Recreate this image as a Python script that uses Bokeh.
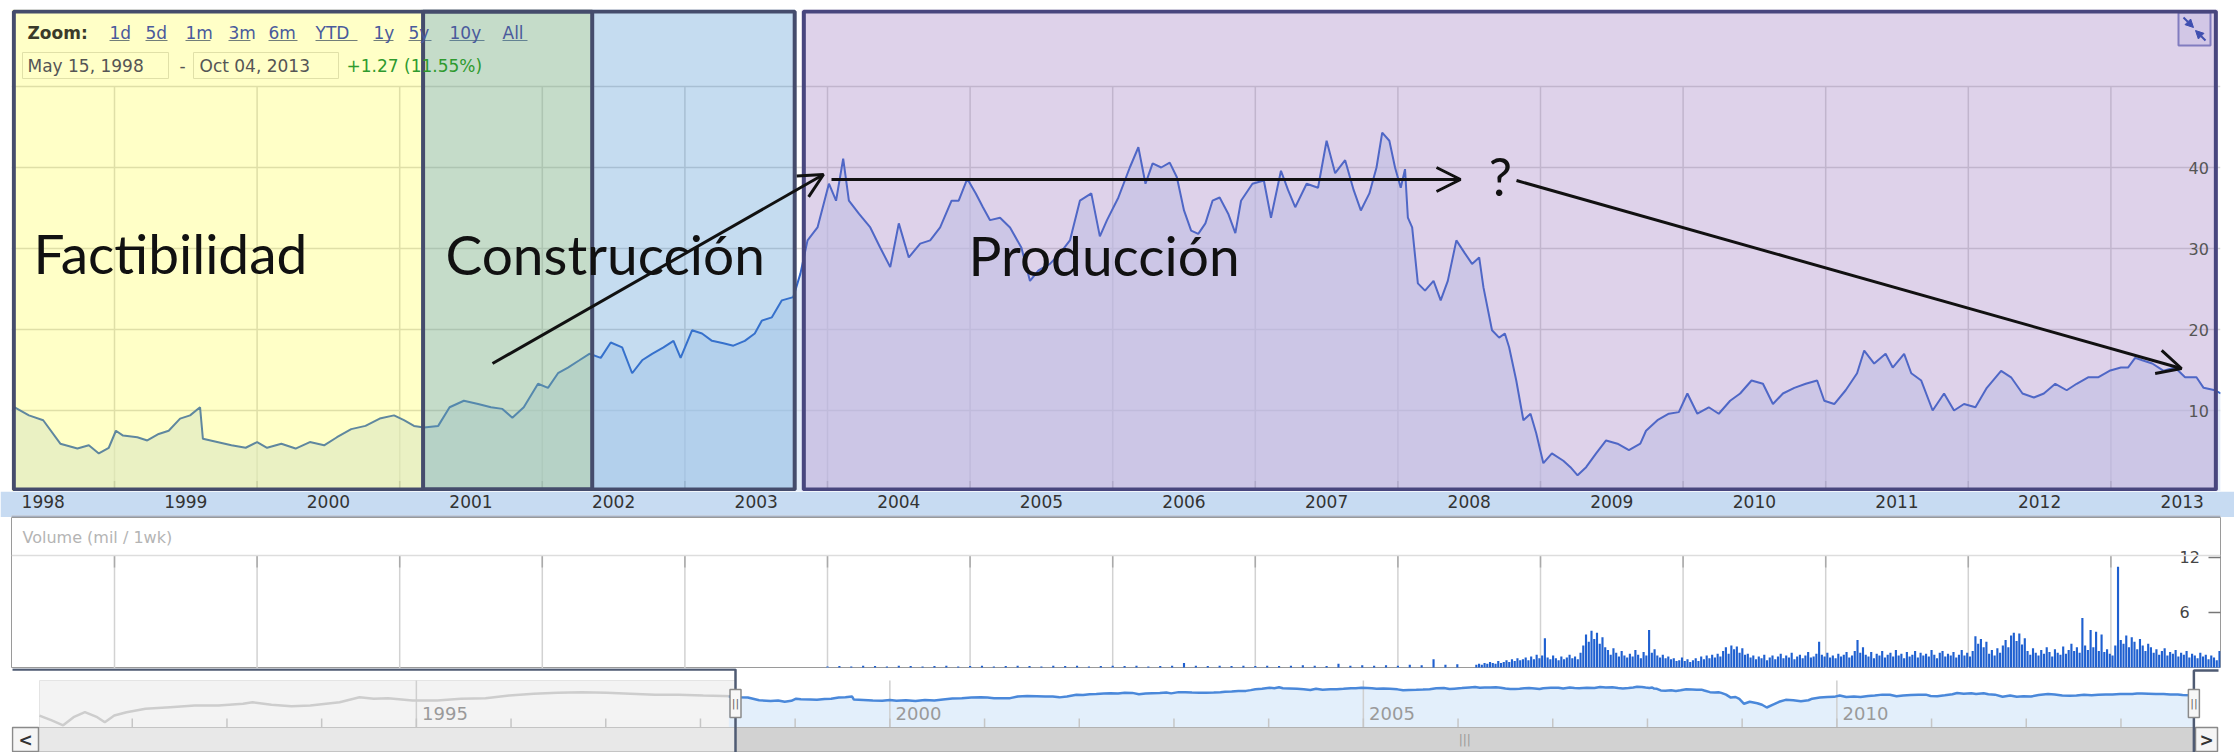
import math
import numpy as np
from bokeh.plotting import figure
from bokeh.layouts import column
from bokeh.models import (Range1d, LinearAxis, FixedTicker, Label, Arrow, OpenHead,
                          NormalHead, Span, Grid)
from bokeh.embed import file_html
from bokeh.resources import INLINE
from bokeh.core.properties import value

# ---------------------------------------------------------------- data
price_t = [1998.30, 1998.40, 1998.50, 1998.62, 1998.74, 1998.82, 1998.89, 1998.96,
           1999.01, 1999.06, 1999.16, 1999.23, 1999.31, 1999.38, 1999.46, 1999.53, 1999.60, 1999.62, 1999.72, 1999.82, 1999.92,
           2000.00, 2000.07, 2000.17, 2000.27, 2000.37, 2000.47, 2000.56, 2000.66, 2000.76, 2000.86, 2000.96,
           2001.03, 2001.10, 2001.17, 2001.27, 2001.35, 2001.45, 2001.55, 2001.64, 2001.72, 2001.79, 2001.87, 2001.97,
           2002.04, 2002.11, 2002.18, 2002.26, 2002.33, 2002.41, 2002.48, 2002.56, 2002.63, 2002.70, 2002.77, 2002.85, 2002.92, 2002.97,
           2003.05, 2003.12, 2003.19, 2003.27, 2003.34, 2003.42, 2003.49, 2003.54, 2003.61, 2003.68, 2003.76, 2003.81, 2003.86, 2003.93,
           2004.01, 2004.06, 2004.11, 2004.15, 2004.22, 2004.30, 2004.37, 2004.44, 2004.50, 2004.57, 2004.65, 2004.72, 2004.79, 2004.87, 2004.92, 2004.98,
           2005.04, 2005.09, 2005.14, 2005.21, 2005.28, 2005.36, 2005.42, 2005.48, 2005.56, 2005.63, 2005.70, 2005.77, 2005.85, 2005.91, 2005.96,
           2006.04, 2006.12, 2006.18, 2006.23, 2006.28, 2006.34, 2006.40, 2006.45, 2006.50, 2006.55, 2006.60, 2006.65, 2006.70, 2006.75, 2006.81, 2006.86, 2006.90, 2006.98,
           2007.06, 2007.11, 2007.18, 2007.23, 2007.28, 2007.36, 2007.44, 2007.50, 2007.56, 2007.63, 2007.69, 2007.74, 2007.80, 2007.85, 2007.89, 2007.94, 2007.98,
           2008.02, 2008.05, 2008.07, 2008.10, 2008.14, 2008.19, 2008.25, 2008.30, 2008.35, 2008.41, 2008.47, 2008.52, 2008.57, 2008.60, 2008.66, 2008.71, 2008.75, 2008.78, 2008.83, 2008.88, 2008.93, 2008.97,
           2009.02, 2009.08, 2009.16, 2009.21, 2009.26, 2009.32, 2009.39, 2009.46, 2009.54, 2009.62, 2009.70, 2009.74, 2009.82, 2009.90, 2009.97,
           2010.03, 2010.10, 2010.18, 2010.25, 2010.33, 2010.40, 2010.48, 2010.56, 2010.63, 2010.70, 2010.78, 2010.86, 2010.94, 2010.99,
           2011.06, 2011.14, 2011.22, 2011.27, 2011.34, 2011.42, 2011.47, 2011.55, 2011.60, 2011.67, 2011.75, 2011.83, 2011.90, 2011.97,
           2012.05, 2012.13, 2012.23, 2012.30, 2012.38, 2012.46, 2012.53, 2012.61, 2012.69, 2012.76, 2012.84, 2012.91, 2012.99,
           2013.07, 2013.12, 2013.17, 2013.22, 2013.29, 2013.37, 2013.45, 2013.52, 2013.60, 2013.65, 2013.73, 2013.77]
price_v = [10.4, 9.4, 8.8, 5.9, 5.3, 5.7, 4.7, 5.4,
           7.5, 6.9, 6.7, 6.3, 7.1, 7.5, 9.0, 9.4, 10.4, 6.5, 6.1, 5.7, 5.4,
           6.1, 5.4, 5.9, 5.3, 6.1, 5.7, 6.7, 7.7, 8.1, 9.0, 9.4,
           8.8, 8.1, 7.9, 8.1, 10.4, 11.2, 10.8, 10.4, 10.2, 9.1, 10.4, 13.3,
           12.8, 14.6, 15.3, 16.2, 17.0, 16.5, 18.4, 17.8, 14.6, 16.2, 17.0, 17.8, 18.6, 16.5,
           19.9, 19.5, 18.6, 18.3, 18.0, 18.6, 19.5, 21.1, 21.5, 23.6, 24.0, 26.9, 31.0, 32.6,
           38.0, 35.9, 41.1, 35.9, 34.3, 32.6, 30.1, 27.7, 33.1, 28.9, 30.6, 31.0, 32.6, 35.9, 35.9, 38.6,
           36.8, 35.1, 33.5, 33.8, 32.6, 30.1, 26.0, 27.3, 28.1, 29.4, 31.0, 35.9, 36.8, 31.5, 33.5,
           36.3, 40.0, 42.5, 38.0, 40.5, 40.0, 40.6, 38.8, 34.7, 32.2, 31.8, 33.1, 35.9, 36.3, 34.3, 31.9, 35.9, 38.0,
           38.4, 33.8, 39.6, 37.2, 35.1, 38.0, 37.5, 43.3, 39.3, 40.9, 37.2, 34.7, 36.8, 40.0, 44.3, 43.3, 40.0,
           37.5, 39.8, 33.8, 32.6, 25.7, 24.8, 26.0, 23.6, 26.0, 31.0, 29.4, 28.1, 28.9, 25.2, 19.9, 19.0, 19.5, 17.8, 13.7, 8.8, 9.6, 7.2,
           3.5, 4.7, 3.8, 3.0, 2.0, 3.0, 4.7, 6.3, 5.9, 5.1, 5.9, 7.5, 8.8, 9.6, 9.8,
           12.1, 9.6, 10.4, 9.6, 11.2, 12.1, 13.7, 13.3, 10.8, 12.1, 12.8, 13.3, 13.7, 11.2,
           10.8, 12.5, 14.6, 17.4, 15.8, 17.0, 15.3, 17.0, 14.6, 13.7, 10.0, 12.1, 10.0, 10.8,
           10.4, 12.8, 14.9, 14.1, 12.1, 11.6, 12.1, 13.3, 12.5, 13.3, 14.1, 14.1, 14.9,
           15.3, 15.3, 16.5, 16.2, 15.8, 14.9, 15.3, 14.1, 14.1, 12.8, 12.5, 12.1]

year_starts = list(range(1999, 2014))
year_labels = [str(y) for y in range(1998, 2014)]
price_ticks = [10, 20, 30, 40]
grid_top = 50

# weekly volume (mil) from 2008.55 on
vol_start, vol_step = 2008.55, 1 / 52
vol_v = [0.3, 0.4, 0.3, 0.5, 0.4, 0.6, 0.5, 0.4, 0.7, 0.5, 0.6, 0.8, 0.6, 0.9, 0.7, 1.0, 0.8, 0.9, 1.1, 0.8, 1.2, 0.9, 1.4, 1.0,
         1.3, 3.2,
         1.1, 0.9, 1.3, 1.0, 0.8, 1.2, 0.9, 1.1, 1.4, 1.0, 1.2, 0.9, 1.6,
         2.4, 3.6, 2.8, 4.0, 3.1, 3.8, 2.6, 3.3, 2.2,
         1.9, 1.4, 2.1, 1.6, 1.2, 1.8, 1.3, 1.1, 1.5, 1.2, 1.9, 1.4, 1.0, 1.7, 1.3,
         4.1,
         1.6, 2.0, 1.3, 1.1, 1.4, 1.0, 1.2,
         0.9, 1.0, 0.7, 0.8, 1.1, 0.7, 0.9, 0.6, 0.8, 1.0, 0.7, 1.2, 0.9, 1.3, 1.0, 1.4, 1.1, 1.5, 1.2,
         1.8, 2.2, 1.5, 2.4, 2.0, 2.3, 1.6, 2.1, 1.4,
         1.5, 1.1, 1.3, 0.9, 1.2, 1.0, 1.4, 0.8, 1.1, 1.3, 0.9, 1.2, 1.5, 1.0, 1.3, 1.1, 1.6, 0.9, 1.2, 1.4, 1.0, 1.3, 1.7, 1.1, 1.2, 1.5,
         2.8,
         1.4, 1.2, 1.6, 1.1, 1.3, 1.0, 1.5, 1.2, 1.4, 1.7, 1.1, 1.3, 1.8,
         3.0,
         1.6, 2.2, 1.4, 1.2, 1.7, 1.0, 1.5, 1.3, 1.8, 1.1, 1.4, 1.6, 1.2, 1.9, 1.3, 1.5, 1.0, 1.7, 1.2, 1.4,
         1.8, 1.1, 1.6, 1.3, 1.5, 1.2, 1.9, 1.4, 1.0, 1.6, 1.8, 1.2, 1.5, 1.3, 1.7, 1.1, 1.4, 1.9, 1.3, 1.6, 1.2, 1.8,
         3.4, 2.6, 3.1, 2.2, 2.8,
         1.5, 1.9, 1.3, 2.1, 1.6,
         2.4, 3.0, 2.2, 3.5, 3.8, 2.9, 3.7, 2.5, 3.2,
         1.8, 1.4, 2.1, 1.6, 1.3, 1.9, 1.5, 2.2, 1.7, 1.2, 2.0, 1.6, 1.4, 2.3, 1.5, 1.9, 2.6, 1.8, 2.2, 1.6,
         5.4, 2.4, 1.9,
         4.1, 2.2, 3.9, 1.8, 3.6,
         1.7, 2.0, 1.5, 1.3, 2.4,
         11.0,
         3.0, 2.6, 3.5, 2.2, 3.3, 2.8, 2.0, 3.1, 2.4, 1.8, 2.6,
         2.2, 1.6, 2.0, 1.4, 1.8, 2.1, 1.3, 1.7, 1.5, 1.9, 1.2, 1.6, 1.4, 1.8, 1.1, 1.5, 1.3, 1.0, 1.6, 1.2,
         1.4, 0.9, 1.3, 1.1, 0.8, 1.8]
# monthly volume before that, from 2004.0
vol_early_start, vol_early_step = 2004.0, 1 / 12
vol_early_v = [0.1, 0.15, 0.1, 0.2, 0.15, 0.1, 0.2, 0.15, 0.1, 0.15, 0.2, 0.1,
               0.15, 0.2, 0.1, 0.15, 0.2, 0.15, 0.1, 0.2, 0.15, 0.2, 0.1, 0.15,
               0.2, 0.15, 0.2, 0.1, 0.15, 0.2, 0.5, 0.2, 0.15, 0.2, 0.15, 0.2,
               0.15, 0.2, 0.15, 0.2, 0.25, 0.2, 0.15, 0.4, 0.2, 0.25, 0.2, 0.25,
               0.2, 0.3, 0.25, 0.9, 0.3, 0.35]
vol_ticks = [6, 12]

# navigator history before the selected window
nav_early_t = [1991.02, 1991.15, 1991.27, 1991.38, 1991.50, 1991.63, 1991.71, 1991.81, 1991.94, 1992.14,
               1992.40, 1992.66, 1992.91, 1993.17, 1993.27, 1993.47, 1993.68, 1993.88, 1994.19, 1994.40,
               1994.55, 1994.70, 1994.96, 1995.22, 1995.47, 1995.73, 1995.98, 1996.24, 1996.49, 1996.75,
               1997.01, 1997.26, 1997.52, 1997.77, 1998.03, 1998.34]
nav_early_p = [0.60, 0.29, 0.14, 0.47, 0.99, 0.47, 0.22, 0.60, 0.99, 1.64,
               2.1, 2.7, 2.7, 3.5, 4.4, 3.0, 2.4, 2.7, 4.4, 9.3,
               7.3, 8.0, 5.7, 5.7, 7.3, 8.0, 12.0, 15.5, 18.0, 19.7,
               18.0, 15.5, 13.3, 13.3, 12.0, 10.9]
nav_years = [1995, 2000, 2005, 2010]
nav_minor = list(range(1992, 2014))
nav_sel = [1998.37, 2013.77]

phase_names = ["Factibilidad", "Construcción", "Producción"]
phase_start = [1998.28, 2001.15, 2003.82]
phase_end = [2002.35, 2003.77, 2013.75]

assert len(price_t) == len(price_v)
assert len(nav_early_t) == len(nav_early_p)

# ---------------------------------------------------------------- layout helpers (annotations only)
W = 2234
def mt(px): return 1999 + (px - 114) / 142.6      # main/volume x pixel -> year
def mv(py): return (491 - py) / 8.1               # main y pixel -> price
def vv(py): return (667 - py) / 9.17              # volume y pixel -> mil
def nt(px): return nav_sel[0] + (px - 735) / 94.7 # navigator x pixel -> year
def ny(py): return math.log10(2) + (707 - py) / 15.4

UI = "DejaVu Sans"
common = dict(output_backend="svg", toolbar_location=None, x_axis_location=None, y_axis_location=None,
              min_border_left=11, min_border_right=14, min_border_bottom=0)

# ---------------------------------------------------------------- main price chart
xr = Range1d(mt(11), mt(2220))
p = figure(width=W, height=491, x_range=xr, y_range=Range1d(0, mv(9)), min_border_top=9,
           outline_line_color=None, background_fill_color="white", border_fill_color="white", **common)
p.grid.visible = False
p.add_layout(Grid(dimension=1, ticker=FixedTicker(ticks=price_ticks + [grid_top]),
                  grid_line_color="#d6d6d6", grid_line_width=1.5))
p.segment(x0=year_starts, y0=0, x1=year_starts, y1=grid_top, line_color="#d6d6d6", line_width=1.5)
p.segment(x0=year_starts, y0=0, x1=year_starts, y1=1.3, line_color="#999999", line_width=1.5)

yax = LinearAxis(ticker=FixedTicker(ticks=price_ticks), axis_line_color=None,
                 major_tick_line_color=None, minor_tick_line_color=None,
                 major_label_standoff=-38, major_label_text_font=UI,
                 major_label_text_baseline="alphabetic",
                 major_label_text_font_size="16px", major_label_text_color="#555555")
p.add_layout(yax, "right")

p.varea(x=price_t, y1=0, y2=price_v, fill_color="#d4e3f7", fill_alpha=0.6)
p.line(price_t, price_v, line_color="#3366cc", line_width=2)

# header of the finance widget
def hdr(x, y, text, color="#3d3d3d", style="normal", size="17px"):
    p.add_layout(Label(x=mt(x), y=mv(y), text=text, text_font=UI, text_font_style=style,
                       text_font_size=size, text_color=color, text_baseline="middle"))
hdr(27, 32, "Zoom:", color="#3a3a2a", style="bold")
links = [("1d", 109, 129), ("5d", 145, 167), ("1m", 185, 210), ("3m", 228, 250), ("6m", 268, 297),
         ("YTD", 315, 357), ("1y", 373, 393), ("5y", 408, 431), ("10y", 449, 484), ("All", 502, 527)]
for txt, a, b in links:
    hdr(a, 32, txt, color="#4a5a9c")
p.segment(x0=[mt(a) for _, a, _ in links], y0=mv(40), x1=[mt(b) for _, _, b in links], y1=mv(40),
          line_color="#4a5a9c", line_width=1.2)
p.quad(left=[mt(22), mt(193)], right=[mt(168), mt(338)], top=mv(52), bottom=mv(78),
       fill_color=None, line_color="#d8d8d8", line_width=1)
hdr(27, 65, "May 15, 1998", color="#555555")
hdr(179, 65, "-", color="#555555")
hdr(199, 65, "Oct 04, 2013", color="#555555")
hdr(346, 65, "+1.27 (11.55%)", color="#2e9a2e")

# expand icon
p.quad(left=mt(2178), right=mt(2210), top=mv(12), bottom=mv(45), fill_color="#eef0fa",
       line_color="#7a84c2", line_width=2)
for (x0, y0, x1, y1) in [(2183, 17, 2193, 27), (2205, 40, 2195, 30)]:
    p.add_layout(Arrow(end=NormalHead(size=8, fill_color="#3f4fb0", line_color="#3f4fb0"),
                       x_start=mt(x0), y_start=mv(y0), x_end=mt(x1), y_end=mv(y1),
                       line_color="#3f4fb0", line_width=2))

# phase overlays
over_fill = ["#ffff00", "#3e8acd", "#9169b9"]
over_alpha = [0.22, 0.30, 0.30]
border_col = ["#454c6c", "#454c6c", "#48467e"]
for i in range(3):
    p.quad(left=phase_start[i], right=phase_end[i], bottom=0, top=mv(9),
           fill_color=over_fill[i], fill_alpha=over_alpha[i], line_color=None)
inset = 2 / 142.6
for i in range(3):
    p.quad(left=phase_start[i] + inset, right=phase_end[i] - (inset if i == 2 else 0),
           bottom=mv(489), top=mv(11), fill_color=None, line_color=border_col[i], line_width=4)

for name, x, yb in zip(phase_names, [33, 445, 968], [252, 253, 254]):
    p.add_layout(Label(x=mt(x), y=mv(yb), text=name, text_font="Lato", text_font_size="55px",
                       text_color="#111111", text_baseline="alphabetic"))
p.add_layout(Label(x=mt(1500), y=mv(175), text="?", text_font="Lato", text_font_size="52px",
                   text_color="#111111", text_baseline="alphabetic", text_align="center"))

for (x0, y0), (x1, y1) in [((492, 363), (823, 174)), ((831, 179), (1460, 179)), ((1516, 180), (2181, 368))]:
    p.add_layout(Arrow(end=OpenHead(line_color="#111111", line_width=3, size=24),
                       x_start=mt(x0), y_start=mv(y0), x_end=mt(x1), y_end=mv(y1),
                       line_color="#111111", line_width=3))

# ---------------------------------------------------------------- year label band
band = figure(width=W, height=26, x_range=xr, y_range=Range1d(0, 1), min_border_top=0,
              outline_line_color=None, background_fill_color="#a4aebf", border_fill_color="#c7dbf2", **common)
band.grid.visible = False
label_pos = [int(y) + 0.5 for y in year_labels]
bax = LinearAxis(ticker=FixedTicker(ticks=label_pos),
                 major_label_overrides={pos: lab for pos, lab in zip(label_pos, year_labels)},
                 axis_line_color=None, major_tick_line_color=None, minor_tick_line_color=None,
                 major_label_standoff=2, major_label_text_font=UI, major_label_text_font_size="17px",
                 major_label_text_color="#333333")
band.add_layout(bax, "above")

# ---------------------------------------------------------------- volume
vol_t = [vol_early_start + i * vol_early_step for i in range(len(vol_early_v))] + \
        [vol_start + i * vol_step for i in range(len(vol_v))]
vol_all = vol_early_v + vol_v
vol = figure(width=W, height=151, x_range=xr, y_range=Range1d(vv(668), vv(517)), min_border_top=0,
             outline_line_color="#9a9a9a", background_fill_color="white", border_fill_color="white", **common)
vol.grid.visible = False
vol.segment(x0=year_starts, y0=vv(668), x1=year_starts, y1=vv(555), line_color="#d2d2d2", line_width=1.5)
vol.segment(x0=year_starts, y0=vv(567), x1=year_starts, y1=vv(555), line_color="#aaaaaa", line_width=1.5)
vol.add_layout(Span(location=vv(555), dimension="width", line_color="#dddddd", line_width=1.5))
vol.vbar(x=vol_t, top=vol_all, width=0.015, fill_color="#1f60d0", line_color=None)
vax = LinearAxis(ticker=FixedTicker(ticks=vol_ticks), axis_line_color=None,
                 major_tick_in=12, major_tick_out=0, major_tick_line_color="#777777",
                 major_tick_line_width=1.5, minor_tick_line_color=None,
                 major_label_standoff=-41, major_label_text_font=UI,
                 major_label_text_font_size="16px", major_label_text_color="#444444")
vol.add_layout(vax, "right")
vol.add_layout(Label(x=mt(22), y=vv(537), text="Volume (mil / 1wk)", text_font=UI,
                     text_font_size="16px", text_color="#b4b4b4", text_baseline="middle"))

# ---------------------------------------------------------------- navigator
nav = figure(width=W, height=84, x_range=Range1d(nt(11), nt(2220)), y_range=Range1d(ny(752), ny(668)),
             min_border_top=0, outline_line_color=None, background_fill_color="white",
             border_fill_color="white", **common)
nav.grid.visible = False
nav.quad(left=nt(39), right=nav_sel[0], bottom=ny(727), top=ny(680), fill_color="#f3f3f3", line_color="#e4e4e4")
nav.varea(x=price_t, y1=ny(727), y2=np.log10(np.array(price_v)), fill_color="#e3effb")
nav.segment(x0=nav_years, y0=ny(727), x1=nav_years, y1=ny(680), line_color="#cfcfcf", line_width=1.5)
nav.segment(x0=nav_minor, y0=ny(727), x1=nav_minor, y1=ny(718), line_color="#c6c6c6", line_width=1.5)
nav.text(x=[y + 0.06 for y in nav_years], y=ny(713), text=[str(y) for y in nav_years],
         text_font=value(UI), text_font_size="18px", text_color="#9a9a9a", text_baseline="middle")
nav.line(nav_early_t, np.log10(np.array(nav_early_p)), line_color="#cdcdcd", line_width=2.5)
nav.line(price_t, np.log10(np.array(price_v)), line_color="#4a88da", line_width=2.5)
# scrollbar
nav.quad(left=nt(12), right=nt(2217), bottom=ny(751), top=ny(727), fill_color="#e8e8e8", line_color="#c4c4c4")
nav.quad(left=nav_sel[0], right=nav_sel[1], bottom=ny(751), top=ny(727), fill_color="#d2d2d2", line_color="#b2b2b2")
nav.text(x=[(nav_sel[0] + nav_sel[1]) / 2], y=ny(739), text=["|||"], text_font=value(UI),
         text_font_size="12px", text_color="#9a9a9a", text_align="center", text_baseline="middle")
nav.quad(left=[nt(12), nt(2195)], right=[nt(38), nt(2217)], bottom=ny(751), top=ny(727),
         fill_color="#f5f5f5", line_color="#8a8a8a", line_width=1.5)
nav.text(x=[nt(25), nt(2206)], y=ny(739), text=["<", ">"], text_font=value(UI), text_font_style="bold",
         text_font_size="17px", text_color="#333333", text_align="center", text_baseline="middle")
nav.line([nt(12), nav_sel[0], nav_sel[0]], [ny(669), ny(669), ny(752)], line_color="#4f5b73", line_width=2.5)
nav.line([nav_sel[1], nav_sel[1], nt(2218)], [ny(752), ny(670), ny(670)], line_color="#4f5b73", line_width=2.5)
nav.rect(x=nav_sel, y=ny(703), width=11, height=28, width_units="screen", height_units="screen",
         fill_color="#f7f7f7", line_color="#8a8a8a", line_width=1.5)
nav.text(x=nav_sel, y=ny(703), text=["||", "||"], text_font=value(UI), text_font_size="11px",
         text_color="#666666", text_align="center", text_baseline="middle")

layout = column(p, band, vol, nav, spacing=0)
open("out.html", "w").write(file_html(layout, INLINE))
